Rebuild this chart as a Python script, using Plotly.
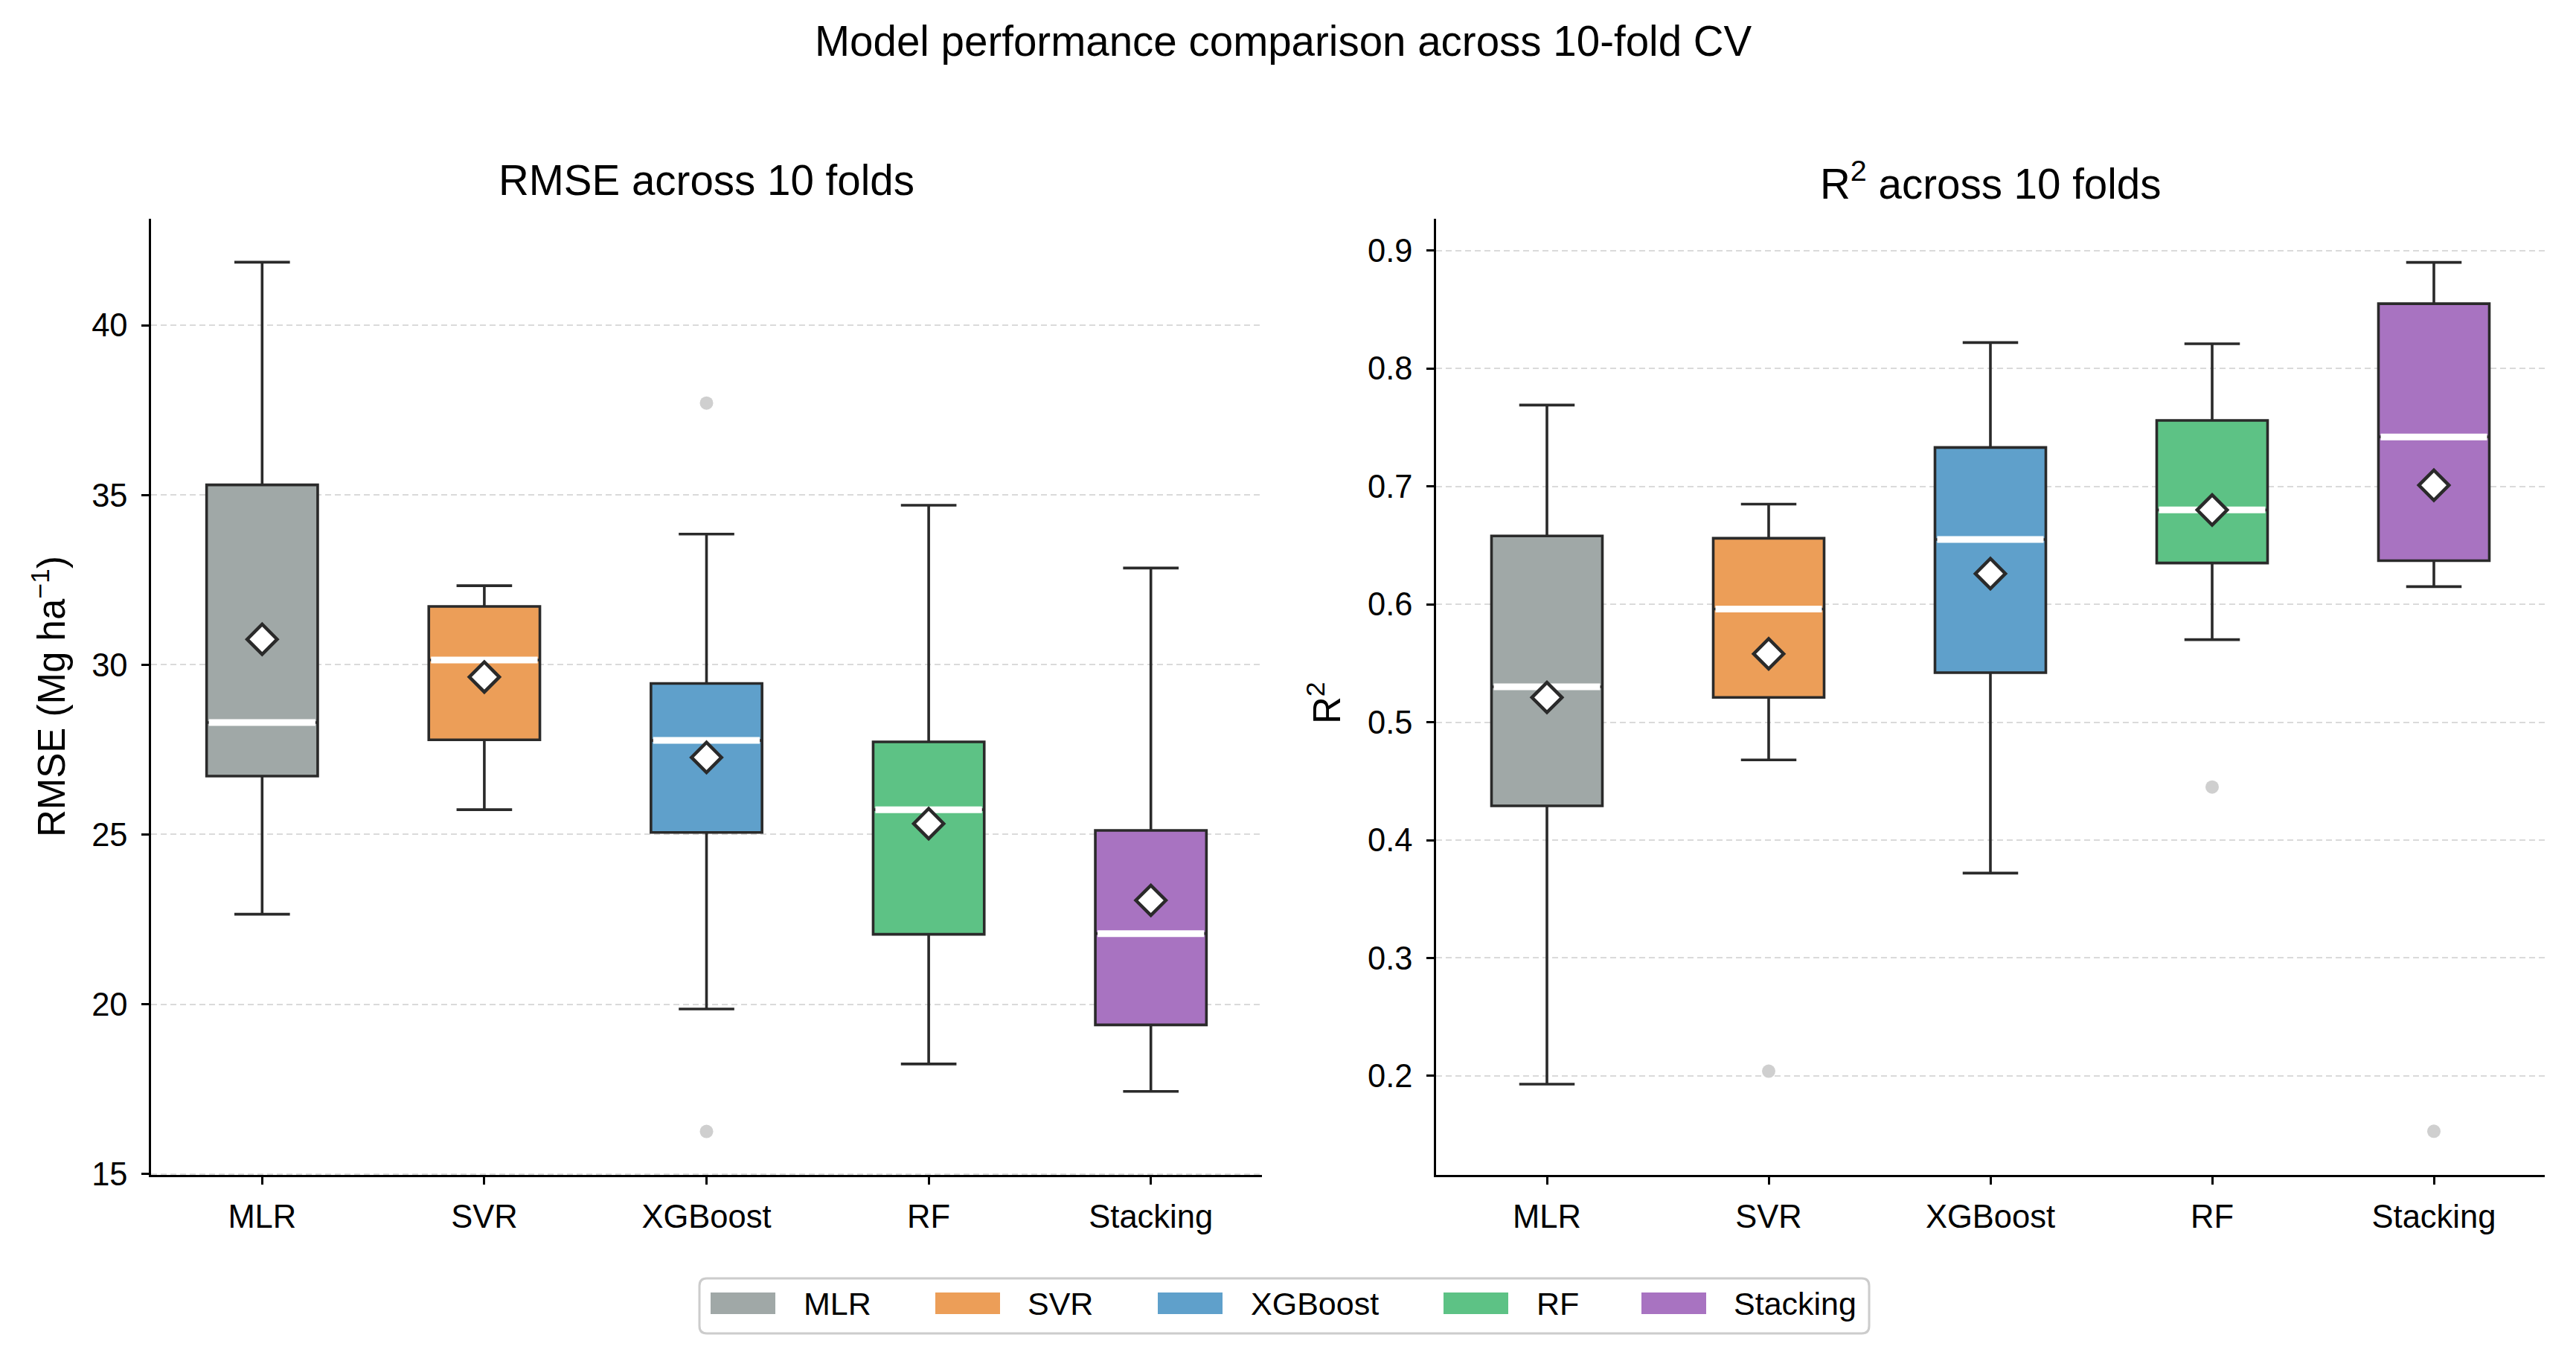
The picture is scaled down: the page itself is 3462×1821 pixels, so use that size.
import plotly.graph_objects as go

W, H = 3462, 1821

# ---------------- data ----------------
models = ["MLR", "SVR", "XGBoost", "RF", "Stacking"]
colors = ["#A0A8A7", "#EC9E58", "#5FA0CB", "#5DC285", "#A873C1"]

rmse_lower = [22.65, 25.73, 19.86, 18.24, 17.43]
rmse_q1 = [26.72, 27.79, 25.06, 22.06, 19.39]
rmse_median = [28.30, 30.14, 27.77, 25.73, 22.08]
rmse_q3 = [35.30, 31.72, 29.45, 27.73, 25.12]
rmse_upper = [41.86, 32.33, 33.85, 34.70, 32.85]
rmse_mean = [30.75, 29.64, 27.27, 25.32, 23.06]
rmse_outlier_model = ["XGBoost", "XGBoost"]
rmse_outlier_value = [37.71, 16.25]

r2_lower = [0.193, 0.468, 0.372, 0.570, 0.615]
r2_q1 = [0.429, 0.521, 0.542, 0.635, 0.637]
r2_median = [0.530, 0.596, 0.655, 0.680, 0.742]
r2_q3 = [0.658, 0.656, 0.733, 0.756, 0.855]
r2_upper = [0.769, 0.685, 0.822, 0.821, 0.890]
r2_mean = [0.521, 0.558, 0.626, 0.680, 0.701]
r2_outlier_model = ["SVR", "RF", "Stacking"]
r2_outlier_value = [0.204, 0.445, 0.153]

# ---------------- helpers ----------------
def px(x):
    return x / W


def py(y):
    return 1 - y / H


FONT = "Liberation Sans, Arial, sans-serif"
EDGE = "#2a2a2a"
BOX_W = 0.5

fig = go.Figure()


def add_panel(xa, ya, lower, q1, med, q3, upper, mean, out_m, out_v):
    for i, m in enumerate(models):
        fig.add_trace(go.Box(
            x=[i], q1=[q1[i]], median=[med[i]], q3=[q3[i]],
            lowerfence=[lower[i]], upperfence=[upper[i]],
            width=BOX_W, whiskerwidth=0.5, fillcolor=colors[i],
            line=dict(color=EDGE, width=3.6), boxpoints=False,
            showlegend=False, name=m, xaxis=xa, yaxis=ya,
        ))
        fig.add_trace(go.Scatter(
            x=[i - BOX_W / 2 + 0.01, i + BOX_W / 2 - 0.01], y=[med[i], med[i]],
            mode="lines", line=dict(color="white", width=9),
            showlegend=False, hoverinfo="skip", xaxis=xa, yaxis=ya,
        ))
    fig.add_trace(go.Scatter(
        x=[models.index(m) for m in out_m], y=out_v, mode="markers",
        marker=dict(symbol="circle", size=18, color="#cfcfcf"),
        showlegend=False, xaxis=xa, yaxis=ya,
    ))
    fig.add_trace(go.Scatter(
        x=list(range(len(models))), y=mean, mode="markers",
        marker=dict(symbol="diamond", size=31, color="white",
                    line=dict(color=EDGE, width=4.5)),
        showlegend=False, xaxis=xa, yaxis=ya,
    ))


add_panel("x", "y", rmse_lower, rmse_q1, rmse_median, rmse_q3, rmse_upper,
          rmse_mean, rmse_outlier_model, rmse_outlier_value)
add_panel("x2", "y2", r2_lower, r2_q1, r2_median, r2_q3, r2_upper,
          r2_mean, r2_outlier_model, r2_outlier_value)

axis_common = dict(
    showline=True, linecolor="black", linewidth=2.5, mirror=False,
    ticks="outside", ticklen=10, tickwidth=2.5, tickcolor="black",
    tickfont=dict(family=FONT, size=43.5, color="black"), zeroline=False,
    automargin=False,
)
xcommon = dict(axis_common, range=[-0.5, 4.5], tickmode="array",
               tickvals=list(range(len(models))), ticktext=models,
               showgrid=False, ticklabelstandoff=6)
ycommon = dict(axis_common, showgrid=True, gridcolor="#dadada", gridwidth=2.2,
               griddash="8px,5px", ticklabelstandoff=10)

y_dom = [py(1579), py(294)]
fig.update_layout(
    width=W, height=H, margin=dict(l=0, r=0, t=0, b=0, autoexpand=False),
    paper_bgcolor="white", plot_bgcolor="white",
    font=dict(family=FONT, color="black"),
    xaxis=dict(xcommon, domain=[px(203), px(1696)], anchor="y"),
    yaxis=dict(ycommon, domain=y_dom, anchor="x", range=[14.97, 43.14],
               tickvals=[15, 20, 25, 30, 35, 40]),
    xaxis2=dict(xcommon, domain=[px(1930), px(3420)], anchor="y2"),
    yaxis2=dict(ycommon, domain=y_dom, anchor="x2", range=[0.116, 0.927],
                tickvals=[0.2, 0.3, 0.4, 0.5, 0.6, 0.7, 0.8, 0.9],
                tickformat=".1f"),
    showlegend=False,
)

annotations = [
    dict(text="Model performance comparison across 10-fold CV", x=px(1725), y=py(55),
         font=dict(size=56.5)),
    dict(text="RMSE across 10 folds", x=px(949), y=py(243), font=dict(size=56.5)),
    dict(text="R<sup>2</sup> across 10 folds", x=px(2675), y=py(243), font=dict(size=56.5)),
    dict(text="RMSE (Mg ha<sup>\u22121</sup>)", x=px(66), y=py(936), textangle=-90,
         font=dict(size=51)),
    dict(text="R<sup>2</sup>", x=px(1780), y=py(945), textangle=-90, font=dict(size=51)),
]
for a in annotations:
    a.update(xref="paper", yref="paper", showarrow=False, xanchor="center",
             yanchor="middle")
    a["font"] = dict(a["font"], family=FONT, color="black")
fig.layout.annotations = annotations

# ---------------- custom legend ----------------
shapes = []
lx0, lx1, ly0, ly1 = 940, 2512, 1718, 1792
r = 10
path = (
    f"M {px(lx0 + r)} {py(ly0)} L {px(lx1 - r)} {py(ly0)} "
    f"Q {px(lx1)} {py(ly0)} {px(lx1)} {py(ly0 + r)} "
    f"L {px(lx1)} {py(ly1 - r)} Q {px(lx1)} {py(ly1)} {px(lx1 - r)} {py(ly1)} "
    f"L {px(lx0 + r)} {py(ly1)} Q {px(lx0)} {py(ly1)} {px(lx0)} {py(ly1 - r)} "
    f"L {px(lx0)} {py(ly0 + r)} Q {px(lx0)} {py(ly0)} {px(lx0 + r)} {py(ly0)} Z"
)
shapes.append(dict(type="path", path=path, xref="paper", yref="paper",
                   line=dict(color="#cccccc", width=3), fillcolor="white", layer="below"))
patch_x = [955, 1257, 1556, 1940, 2206]
text_x = [1078, 1379, 1679, 2063, 2328]
for i, m in enumerate(models):
    shapes.append(dict(type="rect", xref="paper", yref="paper",
                       x0=px(patch_x[i]), x1=px(patch_x[i] + 87),
                       y0=py(1737), y1=py(1766), fillcolor=colors[i],
                       line=dict(width=0)))
    fig.add_annotation(text=m, x=px(text_x[i]), y=py(1752), xref="paper", yref="paper",
                       showarrow=False, xanchor="left", yanchor="middle",
                       font=dict(family=FONT, size=43, color="black"))
fig.layout.shapes = shapes

fig.write_html("out.html")
